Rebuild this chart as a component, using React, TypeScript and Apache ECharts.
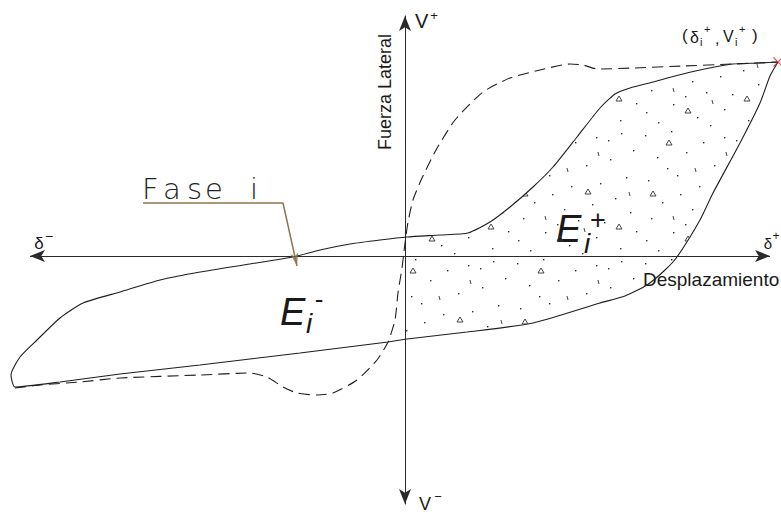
import React, { useEffect, useRef } from "react";
import * as echarts from "echarts";

// Coordinates: displacement (x) and lateral force (y), origin at the axes crossing.

// Current cycle, loading/unloading branch from the peak (δi+, Vi+) back to the negative extreme
const upperBranch: [number, number][] = [
  [373, 194], [355, 193], [328, 192], [295, 186], [270, 180], [248, 174],
  [225, 168], [210, 162], [195, 148], [172, 119], [148, 89], [128, 69],
  [105, 49], [85, 34], [63, 23], [35, 21], [2, 19], [-25, 16], [-55, 12],
  [-85, 6], [-112, -1], [-155, -8], [-205, -16], [-245, -24], [-285, -36],
  [-322, -47], [-345, -62], [-368, -84], [-385, -101], [-394, -119], [-390, -131],
];

// Current cycle, reloading branch from the negative extreme up to the peak
const lowerBranch: [number, number][] = [
  [-390, -131], [-345, -126], [-285, -118], [-205, -109], [-105, -97],
  [-17, -86], [2, -83], [62, -76], [128, -67], [195, -47], [220, -40],
  [242, -29], [260, -14], [272, -1], [295, 36], [308, 63], [335, 113],
  [355, 153], [365, 180], [373, 194],
];

// Previous cycle (dashed)
const previousCycle: [number, number][] = [
  [-390, -132], [-365, -129], [-325, -126], [-285, -122], [-205, -119],
  [-155, -117], [-138, -121], [-122, -131], [-108, -137], [-88, -139],
  [-72, -137], [-48, -124], [-28, -104], [-17, -86], [-10, -64], [-7, -37],
  [-3, -12], [0, 13], [3, 34], [8, 56], [17, 78], [31, 106], [50, 136],
  [78, 164], [105, 178], [135, 186], [165, 192], [178, 191], [192, 187],
  [228, 188], [278, 190], [328, 192], [373, 194],
];

// Peak point (δi+, Vi+)
const peakPoint: [number, number][] = [[373, 194]];

// Leader for the "Fase i" callout
const leaderPath: [number, number][] = [[-262, 53], [-122, 53], [-108, -10]];
const leaderTip: [number, number][] = [[-108, -10]];

// Plot window and the drawn extent of the displacement axis
const X_MIN = -405;
const X_MAX = 376;
const Y_MIN = -248;
const Y_MAX = 240;
const DISP_AXIS_FROM = -375;
const DISP_AXIS_TO = 365;

// Stipple texture for the energy area E+ (concrete-like hatch)
const TILE = 128;
const STIPPLE_DOTS: [number, number][] = [
  [5, 7], [31, 3], [63, 14], [84, 9], [109, 5], [17, 29], [46, 24], [74, 37],
  [98, 31], [121, 22], [8, 52], [37, 47], [59, 58], [88, 55], [114, 49],
  [22, 74], [52, 81], [80, 76], [103, 70], [11, 90], [66, 92], [40, 66],
  [27, 40], [92, 94], [118, 84], [6, 112], [33, 104], [57, 117], [84, 109],
  [108, 120], [124, 103], [45, 96], [70, 125], [18, 122], [96, 12],
];
const STIPPLE_TRIS: [number, number][] = [[26, 12], [73, 61], [10, 63], [104, 96], [45, 108]];
const STIPPLE_TICKS: [number, number][] = [[55, 40], [86, 24], [33, 88], [117, 64], [72, 100]];

function rightOfAxis(pts: [number, number][]): [number, number][] {
  const out: [number, number][] = [];
  for (let k = 0; k < pts.length; k++) {
    const p = pts[k];
    if (p[0] >= 0) out.push(p);
    const q = pts[k + 1];
    if (q && (p[0] >= 0) !== (q[0] >= 0)) {
      const t = p[0] / (p[0] - q[0]);
      out.push([0, p[1] + t * (q[1] - p[1])]);
    }
  }
  return out;
}

function stippleTile(): string {
  const c = document.createElement("canvas");
  c.width = TILE;
  c.height = TILE;
  const g = c.getContext("2d")!;
  g.fillStyle = "#2a2a2a";
  for (const [x, y] of STIPPLE_DOTS) g.fillRect(x, y, 1.4, 1.4);
  g.strokeStyle = "#333";
  g.lineWidth = 0.9;
  for (const [x, y] of STIPPLE_TRIS) {
    g.beginPath();
    g.moveTo(x, y + 5);
    g.lineTo(x + 3, y);
    g.lineTo(x + 6, y + 5);
    g.closePath();
    g.stroke();
  }
  for (const [x, y] of STIPPLE_TICKS) {
    g.beginPath();
    g.moveTo(x, y);
    g.lineTo(x + 1, y + 4);
    g.stroke();
  }
  return c.toDataURL();
}

const SANS = '"Liberation Sans", Arial, sans-serif';
const THIN = '"DejaVu Sans", sans-serif';
const AXIS_COLOR = "#2a2a2a";

function label(
  x: number,
  y: number,
  text: string,
  size: number,
  opts: { align?: string; italic?: boolean; family?: string; weight?: any; rotation?: number; color?: string } = {}
) {
  return {
    type: "text",
    x,
    y,
    rotation: opts.rotation || 0,
    silent: true,
    style: {
      text,
      fontSize: size,
      fontFamily: opts.family || SANS,
      fontStyle: opts.italic ? "italic" : "normal",
      fontWeight: opts.weight || "normal",
      fill: opts.color || "#1a1a1a",
      textAlign: opts.align || "left",
      textVerticalAlign: "middle",
    },
  };
}

export default function App() {
  const ref = useRef<HTMLDivElement>(null);

  useEffect(() => {
    if (!ref.current) return;
    const chart = echarts.init(ref.current, null, { renderer: "svg" });
    const tile = stippleTile();
    const fillPolygon = rightOfAxis(upperBranch).concat(rightOfAxis(lowerBranch));
    const loop = upperBranch.concat(lowerBranch.slice(1));

    chart.setOption({
      animation: false,
      backgroundColor: "#ffffff",
      grid: { left: 0, top: 16, width: 781, height: 488 },
      xAxis: {
        type: "value",
        min: X_MIN,
        max: X_MAX,
        axisLine: { show: false },
        axisTick: { show: false },
        axisLabel: { show: false },
        splitLine: { show: false },
      },
      yAxis: {
        type: "value",
        min: Y_MIN,
        max: Y_MAX,
        axisLine: {
          show: true,
          onZero: true,
          symbol: ["arrow", "arrow"],
          symbolSize: [9, 15],
          lineStyle: { color: AXIS_COLOR, width: 1 },
        },
        axisTick: { show: false },
        axisLabel: { show: false },
        splitLine: { show: false },
      },
      series: [
        {
          type: "custom",
          name: "E+",
          coordinateSystem: "cartesian2d",
          data: [0],
          silent: true,
          z: 1,
          renderItem: (_params: any, api: any) => ({
            type: "polygon",
            shape: { points: fillPolygon.map((p) => api.coord(p)) },
            style: {
              fill: { image: tile, repeat: "repeat", imageWidth: TILE, imageHeight: TILE },
              stroke: "none",
            },
          }),
          // displacement axis with arrows at both ends
          markLine: {
            silent: true,
            symbol: ["arrow", "arrow"],
            symbolSize: [9, 15],
            label: { show: false },
            lineStyle: { color: AXIS_COLOR, width: 1, type: "solid" },
            data: [[{ coord: [DISP_AXIS_FROM, 0] }, { coord: [DISP_AXIS_TO, 0] }]],
          },
        },
        {
          type: "line",
          name: "ciclo i",
          data: loop,
          smooth: 0.2,
          showSymbol: false,
          silent: true,
          z: 3,
          lineStyle: { color: "#1e1e1e", width: 1.1 },
        },
        {
          type: "line",
          name: "ciclo anterior",
          data: previousCycle,
          smooth: 0.2,
          showSymbol: false,
          silent: true,
          z: 2,
          lineStyle: { color: "#1e1e1e", width: 1.1, type: [11, 6] },
        },
        {
          type: "line",
          name: "Fase i",
          data: leaderPath,
          showSymbol: false,
          silent: true,
          z: 4,
          lineStyle: { color: "#8a7650", width: 1.5 },
        },
        {
          type: "scatter",
          data: leaderTip,
          symbol: "arrow",
          symbolSize: [6, 13],
          symbolRotate: 192,
          silent: true,
          z: 5,
          itemStyle: { color: "#8a7650" },
        },
        {
          type: "scatter",
          data: peakPoint,
          symbol: "path://M0,0L10,10M10,0L0,10",
          symbolSize: 9,
          silent: true,
          z: 6,
          itemStyle: { color: "#d03030", borderColor: "#d03030", borderWidth: 1.2 },
        },
      ],
      graphic: [
        // axis ends
        label(415, 20.5, "V", 20),
        label(434, 15, "+", 13, { align: "center" }),
        label(419, 503.5, "V", 18),
        label(438, 496, "−", 13, { align: "center" }),
        label(39, 243, "δ", 17, { align: "center" }),
        label(49, 236, "−", 14, { align: "center" }),
        label(768, 243, "δ", 15, { align: "center" }),
        label(776, 236, "+", 12, { align: "center" }),
        // axis titles
        label(643, 279, "Desplazamiento", 19),
        label(385, 92, "Fuerza Lateral", 18, { align: "center", rotation: Math.PI / 2 }),
        // peak label (δi+, Vi+)
        label(682, 35, "(", 17),
        label(690, 37, "δ", 16),
        label(700, 42, "i", 11),
        label(704, 29, "+", 11),
        label(715, 38, ",", 16),
        label(723, 36, "V", 16),
        label(735, 42, "i", 11),
        label(739, 29, "+", 11),
        label(752, 35, ")", 17),
        // energy labels
        label(556, 229, "E", 38, { italic: true }),
        label(584, 243, "i", 28, { italic: true }),
        label(598, 220, "+", 27, { align: "center" }),
        label(280, 311.5, "E", 38, { italic: true }),
        label(306, 323, "i", 28, { italic: true }),
        label(319, 299, "-", 26, { align: "center" }),
        // callout
        label(142, 189, "F", 29, { family: THIN, weight: 200, color: "#222" }),
        label(163, 189, "a", 29, { family: THIN, weight: 200, color: "#222" }),
        label(187, 189, "s", 29, { family: THIN, weight: 200, color: "#222" }),
        label(205, 189, "e", 29, { family: THIN, weight: 200, color: "#222" }),
        label(250, 189, "i", 29, { family: THIN, weight: 200, color: "#222" }),
      ],
    });

    return () => chart.dispose();
  }, []);

  return (
    <div
      ref={ref}
      style={{ position: "fixed", left: 0, top: 0, width: 781, height: 512, background: "#fff" }}
    />
  );
}
